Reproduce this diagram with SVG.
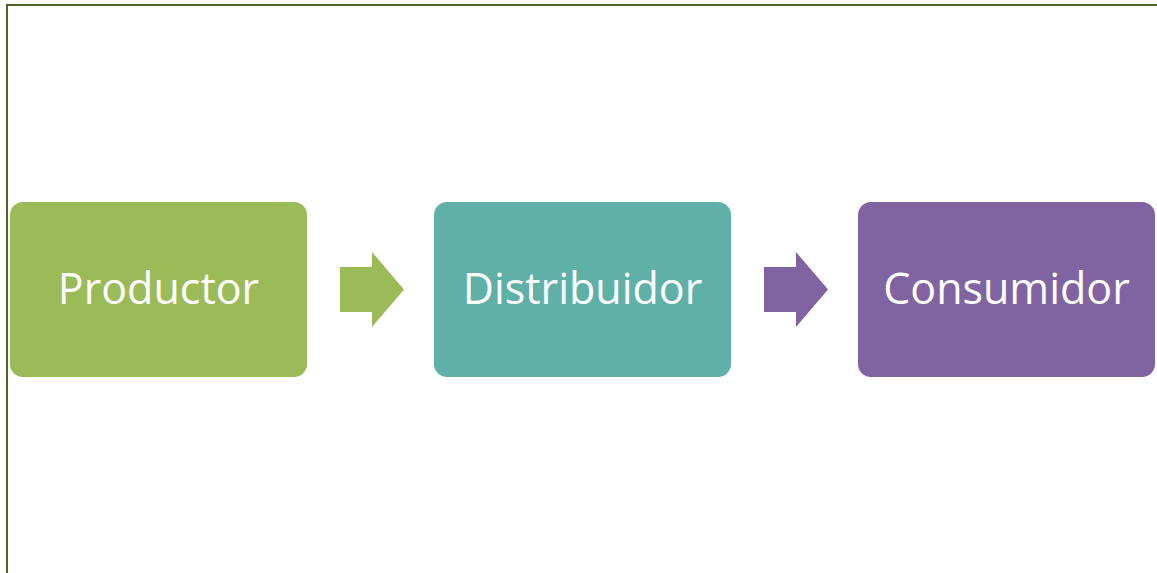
<svg xmlns="http://www.w3.org/2000/svg" width="1157" height="573" viewBox="0 0 1157 573">
<style>
.frame{fill:none;stroke:#4f6228;stroke-width:2}
.lbl{font-family:"Open Sans","Noto Sans",sans-serif;font-size:43px;fill:#ffffff;text-anchor:middle}
</style>
<rect width="1157" height="573" fill="#ffffff"/>
<path class="frame" d="M7,573 V5 H1157"/>
<g id="node-productor">
<rect x="10" y="202" width="297" height="175" rx="13" fill="#9bbb59"/>
<text class="lbl" x="158.5" y="304">Productor</text>
</g>
<g id="node-distribuidor">
<rect x="434" y="202" width="297" height="175" rx="13" fill="#5fb0a7"/>
<text class="lbl" x="582.5" y="304">Distribuidor</text>
</g>
<g id="node-consumidor">
<rect x="858" y="202" width="297" height="175" rx="13" fill="#8064a2"/>
<text class="lbl" x="1006.5" y="304">Consumidor</text>
</g>
<g id="connectors">
<polygon points="340,267 372,267 372,252 404,289.5 372,327 372,312 340,312" fill="#9bbb59"/>
<polygon points="764,267 796,267 796,252 828,289.5 796,327 796,312 764,312" fill="#8064a2"/>
</g>
</svg>
